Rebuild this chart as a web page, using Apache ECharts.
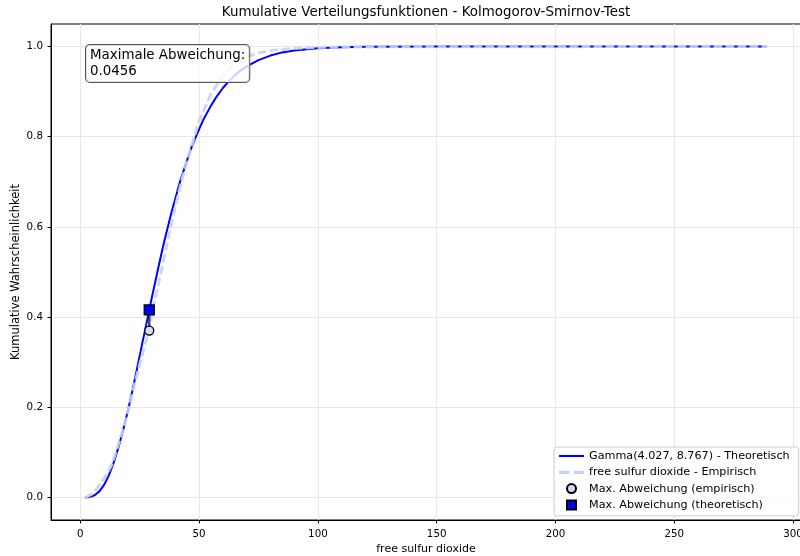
<!DOCTYPE html>
<html>
<head>
<meta charset="utf-8">
<script src="https://cdn.jsdelivr.net/npm/echarts@6/dist/echarts.min.js"></script>
<style>html,body{margin:0;padding:0;background:#fff}#c{width:800px;height:556px}</style>
</head>
<body>
<div id="c"></div>
<script>
// ---- data ----
const xTheo = [2,4,6,8,10,12,14,16,18,20,22,24,26,28,29,30,33,35,38,40,42,45,47,50,52,55,57,60,62,65,67,70,75,80,85,90,100,110,120,150,200,250,289];
const yTheo = [0.0001,0.0012,0.005,0.0135,0.028,0.049,0.0765,0.110,0.149,0.192,0.239,0.289,0.340,0.390,0.416,0.441,0.514,0.561,0.625,0.663,0.701,0.749,0.779,0.817,0.840,0.869,0.886,0.908,0.920,0.936,0.945,0.956,0.970,0.980,0.987,0.991,0.9962,0.9985,0.9993,0.99995,1.0,1.0,1.0];
const xEmp = [2,3,5,7,9,11,13,15,17,19,21,23,25,27,29,31,34,37,40,43,46,50,55,60,65,70,75,80,90,100,110,130,150,200,289];
const yEmp = [0.0002,0.002,0.008,0.02,0.035,0.05,0.07,0.10,0.135,0.17,0.21,0.255,0.295,0.335,0.370,0.43,0.50,0.575,0.645,0.71,0.765,0.835,0.895,0.935,0.962,0.977,0.986,0.991,0.996,0.998,0.9988,0.9994,0.9996,0.9998,1.0];
const devX = 29;
const devEmp = 0.370;
const devTheo = 0.416;
const maxDevText = '0.0456';
const xTicks = [0,50,100,150,200,250,300];
const yTicks = [0,0.2,0.4,0.6,0.8,1.0];
const names = {
  theo: 'Gamma(4.027, 8.767) - Theoretisch',
  emp: 'free sulfur dioxide - Empirisch',
  mEmp: 'Max. Abweichung (empirisch)',
  mTheo: 'Max. Abweichung (theoretisch)'
};
const titleText = 'Kumulative Verteilungsfunktionen - Kolmogorov-Smirnov-Test';
const xName = 'free sulfur dioxide';
const yName = 'Kumulative Wahrscheinlichkeit';

const FONT = 'DejaVu Sans';
const pair = (xs, ys) => xs.map((x, i) => [x, ys[i]]);

const chart = echarts.init(document.getElementById('c'), null, {renderer: 'canvas'});
chart.setOption({
  animation: false,
  textStyle: {fontFamily: FONT},
  grid: {left: 51, top: 24, width: 750, height: 496, show: true, borderColor: '#000', borderWidth: 1,
    backgroundColor: 'transparent', containLabel: false, outerBoundsMode: 'none'},
  xAxis: {
    type: 'value', min: -12.35, max: 303.35,
    name: xName, nameLocation: 'middle', nameGap: 23.5, nameMoveOverlap: false,
    nameTextStyle: {fontFamily: FONT, fontSize: 11, color: '#000'},
    axisLine: {show: true, onZero: false, lineStyle: {color: '#000', width: 1}},
    axisTick: {show: true, length: 3.5, customValues: xTicks, lineStyle: {color: '#000'}},
    axisLabel: {customValues: xTicks, fontFamily: FONT, fontSize: 10.3, color: '#000', margin: 9},
    splitLine: {show: true, lineStyle: {color: '#e7e7e7', width: 1}}
  },
  yAxis: {
    type: 'value', min: -0.05, max: 1.05,
    name: yName, nameLocation: 'middle', nameGap: 29, nameRotate: 90, nameMoveOverlap: false,
    nameTextStyle: {fontFamily: FONT, fontSize: 11.5, color: '#000'},
    axisLine: {show: true, onZero: false, lineStyle: {color: '#000', width: 1}},
    axisTick: {show: true, length: 3.5, customValues: yTicks, lineStyle: {color: '#000'}},
    axisLabel: {customValues: yTicks, fontFamily: FONT, fontSize: 10.3, color: '#000', margin: 8,
      formatter: v => v.toFixed(1)},
    splitLine: {show: true, lineStyle: {color: '#e7e7e7', width: 1}}
  },
  legend: {
    orient: 'vertical', left: 554, top: 447,
    data: [
      {name: names.theo, icon: 'path://M0,0h24v2h-24z'},
      {name: names.emp, icon: 'path://M0,0h9.5v3h-9.5z M13.5,0h9.5v3h-9.5z'},
      {name: names.mEmp, icon: 'circle'},
      {name: names.mTheo, icon: 'path://M0,0h10v10h-10z'}
    ],
    symbolKeepAspect: true,
    itemWidth: 25, itemHeight: 9, itemGap: 4.3,
    padding: [3, 9, 5, 5],
    backgroundColor: 'rgba(255,255,255,0.8)', borderColor: '#cccccc', borderWidth: 1, borderRadius: 3,
    textStyle: {fontFamily: FONT, fontSize: 11.2, color: '#000', lineHeight: 12}
  },
  graphic: [
    {type: 'text', x: 426, y: 6, style: {text: titleText, font: '13.4px "DejaVu Sans"', fill: '#000', textAlign: 'center', textVerticalAlign: 'top'}},
    {type: 'text', left: 85, top: 44, z: 100, style: {
      text: 'Maximale Abweichung:\n' + maxDevText, font: '13.4px "DejaVu Sans"', fill: '#000', lineHeight: 16,
      backgroundColor: 'rgba(255,255,255,0.8)', borderColor: '#555', borderWidth: 1, borderRadius: 4, padding: [3, 4, 2, 4]}}
  ],
  series: [
    {name: names.theo, type: 'line', data: pair(xTheo, yTheo), showSymbol: false, symbol: 'none',
      lineStyle: {color: '#0000ff', width: 2}, itemStyle: {color: '#0000ff'}, z: 2},
    {name: names.emp, type: 'line', data: pair(xEmp, yEmp), showSymbol: false, symbol: 'none',
      lineStyle: {color: '#c6d4f1', width: 3, type: [8.5, 3.5], opacity: 0.9}, itemStyle: {color: '#c6d4f1'}, z: 3},
    {name: 'dev', type: 'line', data: [[devX, devEmp], [devX, devTheo]], showSymbol: false, symbol: 'none',
      lineStyle: {color: 'rgba(0,0,0,0.7)', width: 2.5}, z: 4},
    {name: names.mEmp, type: 'scatter', data: [[devX, devEmp]], symbol: 'circle', symbolSize: 9,
      itemStyle: {color: '#d0dcf2', borderColor: '#000', borderWidth: 1.3, opacity: 1}, z: 5},
    {name: names.mTheo, type: 'scatter', data: [[devX, devTheo]], symbol: 'rect', symbolSize: 10,
      itemStyle: {color: '#0000ff', borderColor: '#000', borderWidth: 1.3, opacity: 1}, z: 6}
  ]
});
</script>
</body>
</html>
